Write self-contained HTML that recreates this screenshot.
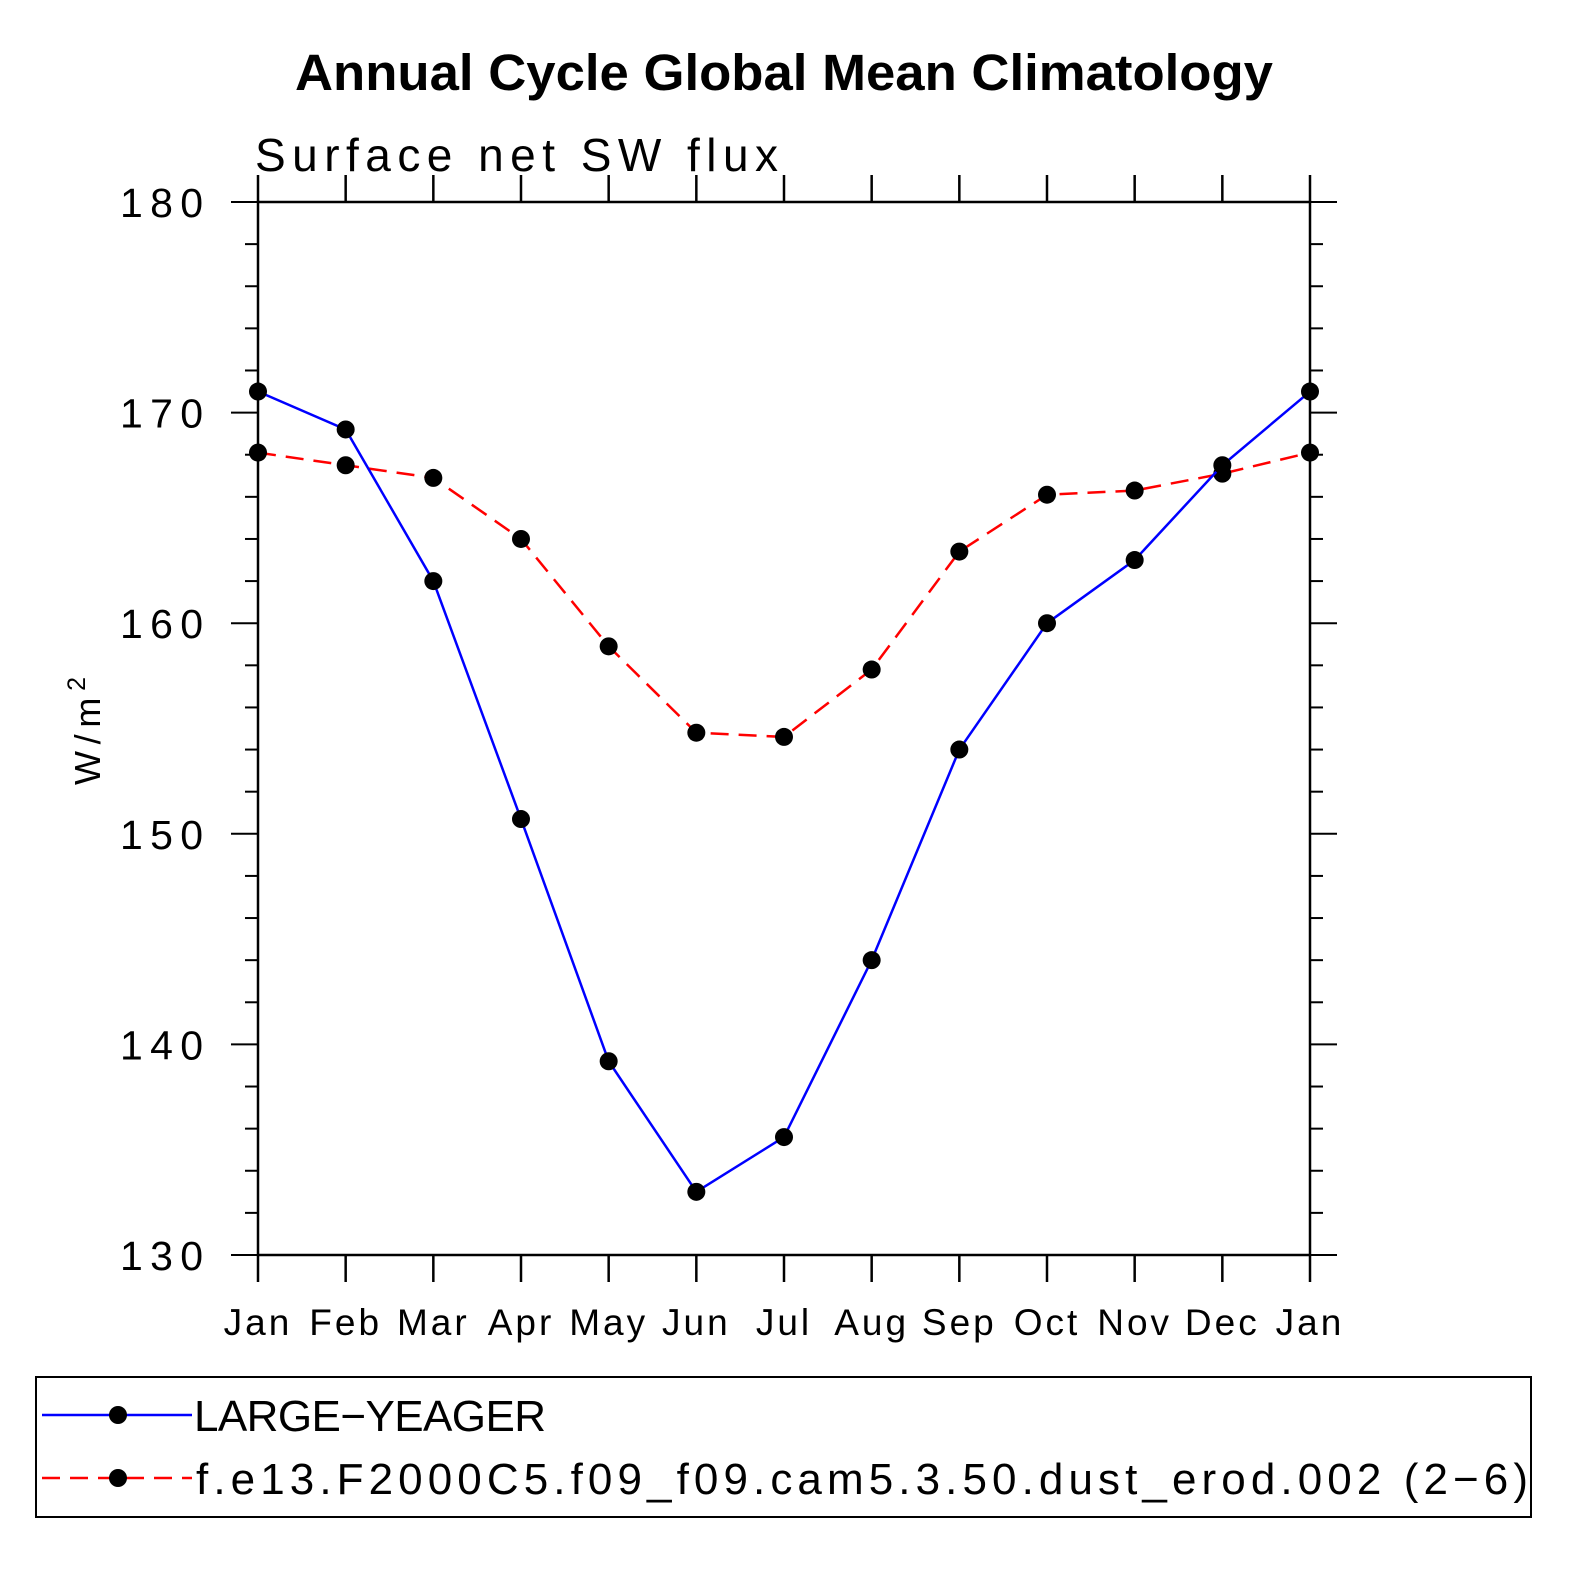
<!DOCTYPE html>
<html><head><meta charset="utf-8"><style>
body{margin:0;background:#fff;}
svg text{font-family:"Liberation Sans",sans-serif;}
</style></head><body>
<svg id="chart" width="1574" height="1574" viewBox="0 0 1574 1574" xmlns="http://www.w3.org/2000/svg">
<rect width="1574" height="1574" fill="#fff"/>
<text x="295" y="90" textLength="978" lengthAdjust="spacingAndGlyphs" font-size="51" font-weight="bold">Annual Cycle Global Mean Climatology</text>
<text x="255" y="171" textLength="523" lengthAdjust="spacing" font-size="46" font-weight="300">Surface net SW flux</text>
<text transform="translate(100,785) rotate(-90)" font-size="36" textLength="108" lengthAdjust="spacing">W/m<tspan dy="-15" font-size="25">2</tspan></text>
<g id="axes"></g>
<g id="series"></g>
<rect x="36" y="1377" width="1495" height="140" fill="none" stroke="#000" stroke-width="2"/>
<g>
<line x1="42" y1="1415" x2="192" y2="1415" stroke="#00f" stroke-width="2.5"/>
<circle cx="118" cy="1415" r="9"/>
<text x="194" y="1431" font-size="44" textLength="352" lengthAdjust="spacing">LARGE−YEAGER</text></g>
<g>
<line x1="42" y1="1478" x2="192" y2="1478" stroke="#f00" stroke-width="2.5" stroke-dasharray="18,10"/>
<circle cx="118" cy="1478" r="9"/>
<text x="196" y="1494" font-size="44" textLength="1332" lengthAdjust="spacing">f.e13.F2000C5.f09_f09.cam5.3.50.dust_erod.002 (2−6)</text></g>
</svg>
<script>
const months=["Jan","Feb","Mar","Apr","May","Jun","Jul","Aug","Sep","Oct","Nov","Dec","Jan"];
const largeYeager=[171.0,169.2,162.0,150.7,139.2,133.0,135.6,144.0,154.0,160.0,163.0,167.5,171.0];
const dustErod=[168.1,167.5,166.9,164.0,158.9,154.8,154.6,157.8,163.4,166.1,166.3,167.1,168.1];
const yTicks=[130,140,150,160,170,180];
const NS="http://www.w3.org/2000/svg";
const X0=258,X1=1310,Y0=1255,Y1=202,YMIN=130,YMAX=180;
const xs=i=>X0+(X1-X0)*i/(months.length-1);
const ys=v=>Y0-(v-YMIN)/(YMAX-YMIN)*(Y0-Y1);
function mk(tag,attrs,parent){const e=document.createElementNS(NS,tag);for(const k in attrs)e.setAttribute(k,attrs[k]);parent.appendChild(e);return e;}
const ax=document.getElementById('axes');
const frame=mk('rect',{x:X0,y:Y1,width:X1-X0,height:Y0-Y1,fill:'none',stroke:'#000','stroke-width':2.5},ax);


months.forEach((m,i)=>{
 const x=xs(i);
 mk('line',{x1:x,y1:Y0,x2:x,y2:Y0+27,stroke:'#000','stroke-width':2.5},ax);
 mk('line',{x1:x,y1:Y1,x2:x,y2:Y1-27,stroke:'#000','stroke-width':2.5},ax);
 const t=mk('text',{x:x,y:1335,'text-anchor':'middle','font-size':37,'letter-spacing':3},ax);
 t.textContent=m;
 
 
});
for(let v=YMIN;v<=YMAX;v+=2){
 const y=ys(v),maj=(v%10===0);
 const l=maj?27:13;
 mk('line',{x1:X0-l,y1:y,x2:X0,y2:y,stroke:'#000','stroke-width':2},ax);
 mk('line',{x1:X1,y1:y,x2:X1+l,y2:y,stroke:'#000','stroke-width':2},ax);
}
yTicks.forEach(v=>{
 const t=mk('text',{x:120,y:ys(v)+15,'font-size':41,textLength:83,lengthAdjust:'spacing'},ax);
 t.textContent=v;
 
 
});
const sg=document.getElementById('series');
function draw(vals,color,dash,name){
 const g=mk('g',{},sg);
 
 
 const p=vals.map((v,i)=>xs(i)+','+ys(v)).join(' ');
 const attrs={points:p,fill:'none',stroke:color,'stroke-width':2.5};
 if(dash)attrs['stroke-dasharray']=dash;
 mk('polyline',attrs,g);
 vals.forEach((v,i)=>{const c=mk('circle',{cx:xs(i),cy:ys(v),r:9,fill:'#000'},g);
  
  });
}
draw(dustErod,'#f00','18,10','series-dust-erod');
draw(largeYeager,'#00f',null,'series-large-yeager');
</script>
</body></html>
